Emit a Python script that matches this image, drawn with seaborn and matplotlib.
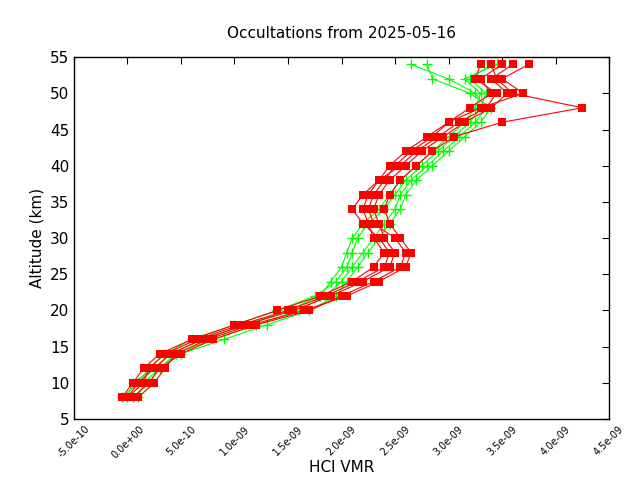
import numpy as np
import pandas as pd
import matplotlib
matplotlib.use("Agg")
import matplotlib.pyplot as plt
import seaborn as sns

# altitude grid (km) shared by all profiles
altitude = [8, 10, 12, 14, 16, 18, 20, 22, 24, 26, 28, 30, 32, 34, 36, 38, 40, 42, 44, 46, 48, 50, 52, 54]

# HCl VMR in units of 1e-9
red_1 = [0.00, 0.10, 0.25, 0.40, 0.70, 1.10, 1.55, 1.90, 2.20, 2.45, 2.50, 2.40, 2.35, 2.30, 2.35, 2.45, 2.60, 2.75, 2.95, 3.15, 3.40, 3.55, 3.40, 3.60]
red_2 = [0.05, 0.20, 0.30, 0.50, 0.80, 1.20, 1.70, 2.00, 2.30, 2.55, 2.60, 2.50, 2.30, 2.25, 2.30, 2.40, 2.50, 2.65, 2.85, 3.00, 3.20, 3.40, 3.30, 3.50]
red_3 = [-0.05, 0.05, 0.15, 0.30, 0.60, 1.00, 1.40, 1.80, 2.10, 2.30, 2.40, 2.30, 2.25, 2.20, 2.25, 2.35, 2.45, 2.60, 2.80, 3.00, 3.30, 3.70, 3.50, 3.75]
red_4 = [0.10, 0.25, 0.35, 0.45, 0.75, 1.15, 1.65, 2.05, 2.35, 2.60, 2.65, 2.55, 2.45, 2.40, 2.45, 2.55, 2.70, 2.85, 3.05, 3.50, 4.25, 3.60, 3.45, 3.40]
red_5 = [0.00, 0.15, 0.20, 0.35, 0.65, 1.05, 1.50, 1.85, 2.15, 2.40, 2.45, 2.35, 2.20, 2.10, 2.20, 2.35, 2.55, 2.70, 2.90, 3.10, 3.35, 3.45, 3.25, 3.30]
green_1 = [-0.05, 0.10, 0.20, 0.35, 0.60, 1.00, 1.40, 1.75, 1.95, 2.05, 2.10, 2.15, 2.25, 2.40, 2.50, 2.60, 2.75, 2.90, 3.05, 3.20, 3.30, 3.35, 3.20, 3.40]
green_2 = [0.05, 0.20, 0.30, 0.45, 0.80, 1.20, 1.60, 1.85, 2.00, 2.10, 2.20, 2.30, 2.40, 2.50, 2.55, 2.65, 2.80, 2.95, 3.10, 3.25, 3.35, 3.25, 3.00, 2.65]
green_3 = [0.00, 0.05, 0.25, 0.40, 0.70, 1.10, 1.50, 1.80, 1.90, 2.00, 2.05, 2.10, 2.20, 2.35, 2.45, 2.55, 2.70, 2.85, 3.00, 3.15, 3.25, 3.30, 3.15, 3.45]
green_4 = [0.10, 0.15, 0.30, 0.50, 0.90, 1.30, 1.70, 1.95, 2.05, 2.15, 2.25, 2.35, 2.45, 2.55, 2.60, 2.70, 2.85, 3.00, 3.15, 3.30, 3.40, 3.20, 2.85, 2.80]

red_profiles = [red_1, red_2, red_3, red_4, red_5]
green_profiles = [green_1, green_2, green_3, green_4]

rows = []
for grp, profs in [("green", green_profiles), ("red", red_profiles)]:
    for i, p in enumerate(profs):
        for a, v in zip(altitude, p):
            rows.append({"group": grp, "unit": i, "alt": a, "vmr": v * 1e-9})
df = pd.DataFrame(rows)

sns.set_style("white")
plt.rcParams["text.color"] = "black"
plt.rcParams["axes.labelcolor"] = "black"
plt.rcParams["xtick.color"] = "black"
plt.rcParams["ytick.color"] = "black"
fig = plt.figure(figsize=(6.4, 4.8), dpi=100)
ax = fig.add_axes([0.1156, 0.127, 0.836, 0.754])

g = df[df.group == "green"]
sns.lineplot(data=g, x="vmr", y="alt", units="unit", estimator=None, sort=False,
             color="#00ff00", lw=0.8, marker="+", markersize=7, mew=1,
             markeredgecolor="#00ff00", ax=ax)
r = df[df.group == "red"]
sns.lineplot(data=r, x="vmr", y="alt", units="unit", estimator=None, sort=False,
             color="#ff0000", lw=0.8, marker="s", markersize=6, mew=0,
             markerfacecolor="#ff0000", ax=ax)

ax.set_xlim(-5e-10, 4.5e-9)
ax.set_ylim(5, 55)
xt = np.arange(-5e-10, 4.6e-9, 5e-10)
ax.set_xticks(xt)
ax.set_xticklabels([f"{v:.1e}" for v in xt], rotation=45, fontsize=7)
ax.set_yticks(range(5, 56, 5))
ax.tick_params(axis="y", labelsize=11)
ax.tick_params(direction="in", top=True, right=True, length=5)
for s in ax.spines.values():
    s.set_color("black")
    s.set_linewidth(1)
ax.set_xlabel("HCl VMR", fontsize=11, labelpad=0)
ax.set_ylabel("Altitude (km)", fontsize=11)
ax.set_title("Occultations from 2025-05-16", fontsize=11, pad=14)

fig.savefig("out.png", dpi=100)
